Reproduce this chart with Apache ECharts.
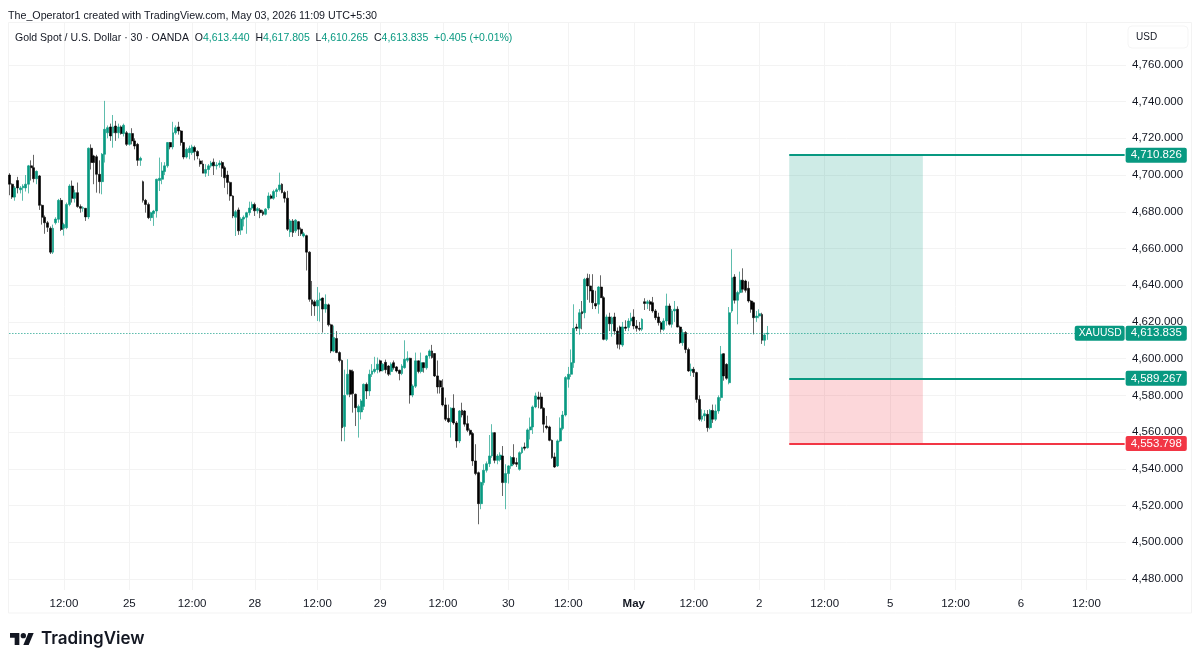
<!DOCTYPE html>
<html>
<head>
<meta charset="utf-8">
<title>XAUUSD</title>
<script src="https://cdn.jsdelivr.net/npm/echarts@6/dist/echarts.min.js"></script>
<style>
  html, body {margin: 0; padding: 0; background: #fff;}
  #chart {width: 1200px; height: 664px;}
</style>
</head>
<body>
<div id="chart"></div>
<script>
// 30 minute bars
const opens = [
  4700,4695,4688,4697,4692,4693,4693,4695,4705,4704,
  4698,4699.5,4683.5,4677,4674,4671,4658,4674,4675.9,4686.2,
  4671,4671.3,4684,4694,4687.3,4690.4,4682.8,4681.9,4681.9,4677.2,
  4714.6,4710.4,4710,4700.4,4696.4,4711.3,4723,4726.2,4723,4726.7,
  4723,4726.2,4722.6,4723,4716.7,4722.6,4718.6,4716.7,4708,4696.4,
  4686.2,4684,4676.8,4679,4680.4,4697,4697.7,4701.9,4705,4717.7,
  4715.3,4723,4726.2,4724,4717.7,4709.8,4712.2,4712.2,4715,4712.8,
  4707.7,4706,4701,4703,4705,4707,4705,4705.5,4706.8,4704,
  4700,4696,4688.6,4677,4681,4670,4676,4677,4679.5,4682,
  4684,4680.5,4681,4680,4678.6,4682,4688.6,4687.4,4691,4692,
  4695,4690.5,4687.4,4669,4675,4669.6,4674.6,4670.5,4666.8,4667,
  4658,4632,4631,4628.7,4631.8,4633,4627,4629.3,4618.4,4604.2,
  4611,4603.3,4599,4563,4580.6,4593.7,4593,4580.6,4571,4571,
  4574,4586,4582.4,4591.5,4593,4594,4598.8,4593.7,4598,4596,
  4593,4597.8,4595.5,4593.7,4591.9,4595.1,4599.1,4600.2,4580.2,4585,
  4598.8,4593,4597.8,4595,4601.5,4604.2,4602.8,4590.6,4587.9,4584.2,
  4574.8,4567.5,4565.7,4573,4565,4555.2,4571.9,4571.5,4564.6,4561,
  4559.2,4544.3,4537.9,4521,4532.5,4539.2,4542.8,4547,4559.7,4544.6,
  4545,4547,4532.5,4537.4,4541.6,4546.1,4543.4,4539.7,4548.8,4551.9,
  4551.5,4561.2,4562.8,4573.7,4579.1,4579.1,4573,4563.3,4562.8,4555.5,
  4546.5,4541.6,4555.2,4562,4569.3,4588.8,4591.5,4597.8,4617.2,4616.5,
  4625.6,4625,4643.8,4639.6,4637.2,4630,4629.6,4639,4633.2,4610.5,
  4622.7,4619,4622.7,4615,4617.2,4607.4,4617.2,4617,4620.5,4622.7,
  4617.8,4616.5,4616,4631,4630,4631,4630.5,4626,4622.7,4619.6,
  4616,4620.5,4628.7,4618.7,4626,4626.9,4617.2,4608.7,4614.2,4605,
  4593.3,4594.2,4592.4,4577.8,4567,4568.8,4569.7,4562.4,4571.8,4567,
  4571.5,4578.8,4602.7,4596.9,4586.9,4626,4644.5,4631.8,4636,4642.7,
  4642.3,4638.3,4631.4,4630.5,4622.3,4623.2,4624.1,4610,4613.44
];
const closes = [
  4695,4688,4693,4693,4693,4694,4695,4705,4704,4698,
  4702,4683.5,4677,4674,4671.5,4658,4671,4676,4686.2,4670.4,
  4673,4684,4694,4687.3,4690.4,4682.8,4681.9,4682.2,4677.2,4714.6,
  4706.8,4706.8,4700.4,4696.4,4711.3,4724.9,4725.8,4721.3,4726.2,4723,
  4726.2,4722.6,4727.1,4716.7,4722.6,4718.6,4715.8,4708,4709.1,4686.2,
  4684,4676.8,4679.5,4680.4,4697.7,4698.2,4702.2,4705,4717.7,4715.3,
  4723,4725.8,4724,4717.7,4709.8,4714,4714.6,4715.3,4712.8,4710.4,
  4706,4701,4703,4705,4706.5,4705,4705.5,4706.5,4703.7,4698.5,
  4696,4688.6,4677.7,4680,4669.6,4676,4677,4679.5,4682,4684,
  4680.5,4681.7,4679.5,4678.6,4681.4,4688.6,4687.4,4691,4692,4694.6,
  4690.5,4687.4,4670.5,4675,4668.7,4675.4,4670.5,4668,4668,4658,
  4632.3,4629.6,4628.7,4631.8,4632.5,4627,4629.6,4618.4,4604.2,4611.5,
  4603.3,4599,4562.4,4580,4591.5,4580.6,4581,4573.3,4574,4577,
  4586,4582.4,4591.5,4593.3,4594.2,4597,4593.3,4597,4594,4591.5,
  4597,4595.1,4593.3,4591.9,4596,4599.7,4600.2,4580.2,4585.1,4598.8,
  4593,4597.8,4595.1,4601.5,4604.2,4600.6,4590.6,4584.6,4584.6,4574.8,
  4567,4565.7,4573,4565,4555.2,4571.5,4569.3,4564.3,4561,4558.8,
  4544.3,4537.4,4521,4532.5,4539.2,4542.8,4547,4559.7,4544.6,4547,
  4547.5,4532.5,4537.4,4541.6,4546.1,4542.8,4542.5,4548.8,4551.5,4551.2,
  4561.2,4562.8,4573.7,4579.7,4577.9,4573,4564.3,4562.4,4555.5,4546.1,
  4541,4555.2,4562.1,4569.3,4589.7,4591.5,4597.8,4616.5,4616.5,4625,
  4624.5,4643.2,4639.6,4636.9,4630.5,4628.7,4639,4633.2,4610.5,4622.7,
  4619,4622.3,4615,4607.8,4607.8,4617.2,4616.5,4620.5,4622,4617.8,
  4616.5,4616,4621.4,4630,4631,4629.6,4626,4622.3,4619.6,4616,
  4620.5,4628.7,4618.7,4626,4626.9,4617.2,4608.7,4614.2,4605,4593.3,
  4594.2,4592.4,4577.8,4567,4568.8,4570,4562.4,4571.8,4567,4571.5,
  4578.8,4602.4,4590.6,4589.3,4625,4644.1,4631.8,4636,4642.7,4637.8,
  4637.2,4631.4,4626.9,4622.3,4623.2,4624.5,4610,4612.9,4613.835
];
const highs = [
  4701,4695.5,4694,4699,4694,4695,4700,4705.5,4708,4711,
  4702.5,4700,4684,4678,4675,4672,4673,4677,4687,4687.5,
  4674,4685,4695,4697,4692,4695.9,4684,4683,4682,4715,
  4716.7,4711,4711,4708,4712,4740.4,4727,4728,4732.7,4729.5,
  4728,4727,4728,4724,4723,4725.5,4720,4717.5,4710,4697,
  4687,4685,4680,4681,4698,4709.5,4707,4707,4718,4718,
  4729,4727,4729,4724.5,4718,4715,4716,4716.5,4716,4713.5,
  4709,4708,4705.9,4706,4707.7,4709,4707,4708,4707.7,4705,
  4702.3,4696.5,4689,4681,4682.3,4677,4678,4680,4685.5,4685.5,
  4685,4682.5,4682,4681,4682,4690.5,4689.5,4692,4693,4701.3,
  4695.5,4691.4,4691.4,4676,4676,4676,4675,4671.4,4669,4667.5,
  4658.5,4642.3,4632,4639,4636,4633.3,4635,4630,4619,4618,
  4615,4604,4599.5,4594,4599.7,4594,4594,4581,4575,4578,
  4586.5,4587,4594,4597,4601,4600.6,4599.5,4597.5,4599.5,4596.5,
  4598,4599,4596,4594,4597,4610,4604,4600.5,4586,4603.3,
  4599,4603.3,4598,4602,4605,4607.5,4603,4599,4588.5,4588.8,
  4578.8,4575,4573.5,4580.6,4566,4572,4576,4572,4569,4562,
  4560,4553.4,4538.5,4533,4542.5,4544,4558.4,4564.3,4560,4548,
  4549,4552.4,4542.5,4542,4547,4553.4,4546,4549.5,4552,4554.3,
  4562,4567.9,4574.5,4581.5,4582,4581.5,4573.5,4568.8,4563.5,4556,
  4548.8,4556,4568,4571.5,4590.5,4595.5,4605,4629.6,4619,4627,
  4631.4,4644,4646.3,4646,4646,4637,4639.5,4645.4,4634,4624,
  4625,4623,4625,4617,4618,4620,4620.9,4622,4625,4626.9,
  4621,4620,4622,4632.9,4632,4632,4633.6,4627,4625,4620.5,
  4622,4635.4,4630,4627,4631.4,4628.5,4618,4616,4615,4606,
  4597.3,4595.5,4592.9,4580,4572.4,4572,4572,4572.5,4575,4575,
  4580,4606.9,4603,4597.5,4628.1,4659.6,4646,4637,4647.4,4649.2,
  4643,4642,4632,4631,4626,4626.9,4625,4614,4617.805
];
const lows = [
  4689,4687,4686,4690,4690,4686,4691,4690,4697,4696,
  4695,4681,4673,4668,4669,4657,4657,4673,4674,4669.5,
  4667,4670.5,4683,4685,4685,4682.2,4679.5,4680,4675,4676,
  4703,4695,4690.4,4690,4689.5,4706.8,4720,4718.6,4714.9,4718.6,
  4720,4722,4721,4715.8,4716,4716.7,4714,4705,4705,4685,
  4679.5,4676,4675,4672.3,4676.8,4691.3,4695,4700,4704,4714,
  4714,4722,4722,4716,4708.6,4709,4708.6,4711,4708,4708.6,
  4704.5,4701,4699,4699.5,4704,4700,4703,4704,4699,4693,
  4689.5,4686,4676.5,4666.8,4667.4,4667.4,4672,4668,4678,4681,
  4677.7,4679,4676.5,4677.7,4678,4681,4686.8,4686.5,4688,4691,
  4690,4685,4669.6,4666.3,4666.3,4668.5,4666.8,4666.8,4666,4648,
  4631,4623.3,4623.3,4620.5,4620.2,4614.2,4625,4617.5,4603,4603.5,
  4603,4598,4555,4555,4580,4579,4570.6,4563.3,4557,4566.9,
  4572,4578,4579.7,4590,4592,4592,4592.5,4593,4592,4590.5,
  4591,4594,4592.5,4588.2,4591,4594.5,4598,4575.5,4579,4584,
  4592,4592,4592.4,4594,4600,4600,4590,4581,4581,4574,
  4566,4565,4557,4564,4551.5,4554,4568,4563,4560,4558,
  4541.6,4536.5,4509.8,4518,4531,4538,4541,4546,4543,4542.5,
  4544,4525.2,4518,4532,4540,4542,4541,4539,4548,4550,
  4551,4556,4559,4573,4573,4572.5,4559.7,4561.5,4555,4545.5,
  4540.5,4541,4554.5,4561,4568.5,4584.2,4590,4595,4615,4613,
  4616,4622,4632,4630.5,4627,4627,4624.5,4633,4610,4609.6,
  4615,4612,4613,4605.6,4605,4606.4,4615,4615,4618,4616,
  4614.7,4615,4615,4626.5,4627,4626,4625,4621,4618,4614.2,
  4615,4618,4618,4616.9,4620,4617,4608,4607,4603,4592.8,
  4590.5,4590,4576,4566,4565.7,4566,4560.2,4561.5,4565,4566,
  4570,4577,4588,4588.5,4586,4625,4630,4618.7,4635,4636,
  4636,4630.5,4625,4613.2,4620,4622,4608,4607,4610.265
];

// tick labels of the time axis and the bar slot each one sits on
const timeLabels = ['12:00','25','12:00','28','12:00','29','12:00','30','12:00','May','12:00','2','12:00','5','12:00','6','12:00'];
const timeSlots = [20,44,67,90,113,136,159,183,205,229,251,275,299,323,347,371,395];
const slotCount = 410;

const priceTicks = [4480,4500,4520,4540,4560,4580,4600,4620,4640,4660,4680,4700,4720,4740,4760];

const lastPrice = 4613.835;
const targetPrice = 4710.826;
const entryPrice = 4589.267;
const stopPrice = 4553.798;
const positionSlots = [285.5, 335];

const GREEN = '#089981';
const RED = '#f23645';
const FONT = '"Liberation Sans", Arial, sans-serif';

let categories = [];
for (let i = 0; i < slotCount; i++) {
  let k = timeSlots.indexOf(i);
  categories.push(k >= 0 ? timeLabels[k] : '');
}

let candles = [];
opens.forEach(function (value, i) {
  candles.push([value, closes[i], lows[i], highs[i]]);
});

function fmt(v) {
  return v.toLocaleString('en-US', {minimumFractionDigits: 3, maximumFractionDigits: 3});
}

// a horizontal level running from the position box to the price scale, with its tag
function levelLine(price, color, fromSlot, type, width) {
  return [{
    coord: [fromSlot, price],
    lineStyle: {color: color, width: width, type: type},
    label: {
      show: true,
      position: 'end',
      distance: 1,
      formatter: fmt(price),
      color: '#fff',
      fontSize: 11.5,
      fontFamily: FONT,
      backgroundColor: color,
      borderRadius: 2,
      padding: [2, 5, 1, 5]
    }
  }, {coord: [slotCount - 1, price]}];
}

const chart = echarts.init(document.getElementById('chart'), null, {renderer: 'canvas'});

chart.setOption({
  animation: false,
  backgroundColor: '#fff',
  title: [{
    left: 8,
    top: 11,
    padding: 0,
    text: 'The_Operator1 created with TradingView.com, May 03, 2026 11:09 UTC+5:30',
    textStyle: {fontFamily: FONT, fontSize: 10.7, fontWeight: 'normal', color: '#131722'}
  }, {
    left: 15,
    top: 33,
    padding: 0,
    text: '{d|Gold Spot / U.S. Dollar · 30 · OANDA}  {d|O}{v|4,613.440}  {d|H}{v|4,617.805}  {d|L}{v|4,610.265}  {d|C}{v|4,613.835}  {v|+0.405 (+0.01%)}',
    textStyle: {
      fontFamily: FONT,
      fontSize: 10.5,
      fontWeight: 'normal',
      rich: {
        d: {fontFamily: FONT, fontSize: 10.5, color: '#131722'},
        v: {fontFamily: FONT, fontSize: 10.5, color: GREEN}
      }
    }
  }],
  grid: {left: 8, top: 23, width: 1118, height: 567, containLabel: false},
  xAxis: {
    type: 'category',
    data: categories,
    axisLine: {show: false},
    axisTick: {show: false},
    axisLabel: {
      interval: function (i, v) { return v !== ''; },
      margin: 8,
      color: '#131722',
      fontSize: 11.5,
      fontFamily: FONT,
      formatter: function (v) { return v === 'May' ? '{b|May}' : v; },
      rich: {b: {fontWeight: 'bold', fontSize: 11.5, fontFamily: FONT, color: '#131722'}}
    },
    splitLine: {
      show: true,
      alignWithLabel: true,
      interval: function (i, v) { return v !== ''; },
      lineStyle: {color: '#f3f3f3', width: 1}
    }
  },
  yAxis: {
    type: 'value',
    position: 'right',
    scale: true,
    min: 4474,
    max: 4782.8,
    axisLine: {show: false},
    axisTick: {show: false, customValues: priceTicks},
    axisLabel: {
      customValues: priceTicks,
      margin: 6,
      color: '#131722',
      fontSize: 11.5,
      fontFamily: FONT,
      formatter: fmt
    },
    splitLine: {show: true, lineStyle: {color: '#f3f3f3', width: 1}}
  },
  series: [{
    type: 'candlestick',
    data: candles,
    barWidth: 2.4,
    itemStyle: {
      color: GREEN,
      color0: '#000',
      borderColor: 'rgba(8,153,129,0.65)',
      borderColor0: 'rgba(0,0,0,0.6)',
      borderWidth: 1
    },
    markArea: {
      silent: true,
      data: [
        [{coord: [positionSlots[0], targetPrice], itemStyle: {color: 'rgba(8,153,129,0.2)'}}, {coord: [positionSlots[1], entryPrice]}],
        [{coord: [positionSlots[0], entryPrice], itemStyle: {color: 'rgba(242,54,69,0.2)'}}, {coord: [positionSlots[1], stopPrice]}]
      ]
    },
    markLine: {
      silent: true,
      symbol: ['none', 'none'],
      animation: false,
      data: [
        levelLine(lastPrice, GREEN, 0, [1, 2], 1),
        levelLine(targetPrice, GREEN, positionSlots[0], 'solid', 2),
        levelLine(entryPrice, GREEN, positionSlots[0], 'solid', 2),
        levelLine(stopPrice, RED, positionSlots[0], 'solid', 2)
      ]
    },
    markPoint: {
      silent: true,
      symbol: 'rect',
      symbolSize: 0,
      data: [{
        coord: [slotCount - 1, lastPrice],
        label: {
          show: true,
          position: 'left',
          distance: 0,
          formatter: 'XAUUSD',
          color: '#fff',
          fontSize: 10.3,
          fontFamily: FONT,
          backgroundColor: GREEN,
          borderRadius: 2,
          padding: [3, 3, 2, 4]
        }
      }]
    }
  }],
  graphic: [
    // outer frame around pane and scales
    {type: 'rect', z: -1, shape: {x: 8.5, y: 22.5, width: 1183, height: 590.5}, style: {fill: 'none', stroke: '#f3f3f3', lineWidth: 1}},
    {type: 'rect', shape: {x: 1128, y: 26, width: 60, height: 22, r: 4}, style: {fill: '#fff', stroke: '#f5f5f5', lineWidth: 1}},
    {type: 'text', x: 1136, y: 32, style: {text: 'USD', font: '10px ' + FONT, fill: '#131722'}},
    // TradingView logo
    {
      type: 'group',
      x: 10,
      y: 630.3,
      scaleX: 0.667,
      scaleY: 0.667,
      children: [
        {type: 'polygon', shape: {points: [[14,22],[7,22],[7,11],[0,11],[0,4],[14,4]]}, style: {fill: '#131722'}},
        {type: 'polygon', shape: {points: [[28,22],[20,22],[27.5,4],[35.5,4]]}, style: {fill: '#131722'}},
        {type: 'circle', shape: {cx: 20, cy: 8, r: 4}, style: {fill: '#131722'}}
      ]
    },
    {type: 'text', x: 41, y: 630.5, style: {text: 'TradingView', font: '600 17px Inter, ' + FONT, fill: '#131722'}}
  ]
});
</script>
</body>
</html>
